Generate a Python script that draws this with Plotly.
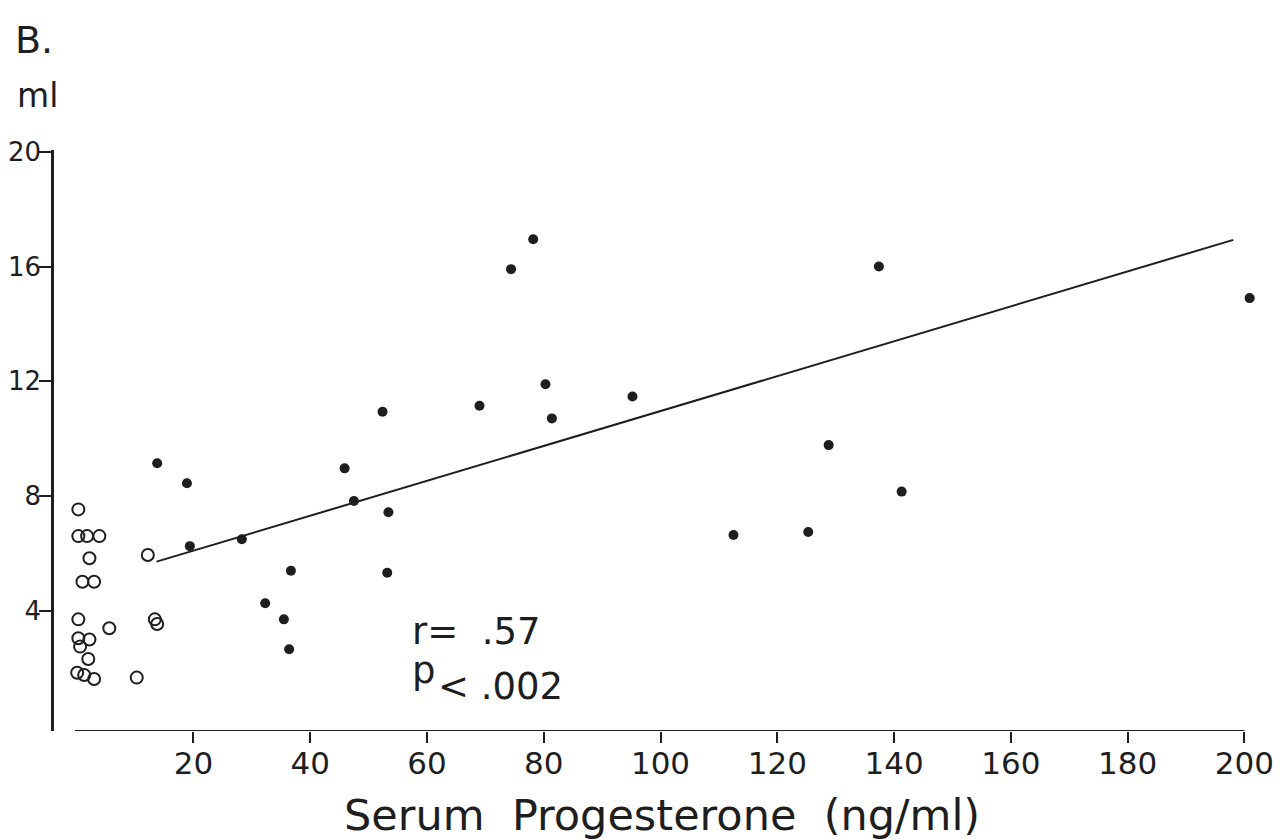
import plotly.graph_objects as go

# Filled dots (luteal / high progesterone)
filled_x = [13.8, 18.9, 19.4, 28.3, 32.3, 35.5, 36.4, 36.7, 45.9, 47.5, 52.4, 53.2, 53.4,
            69.0, 74.4, 78.2, 80.3, 81.4, 95.2, 112.5, 125.3, 128.8, 137.4, 141.3, 200.9]
filled_y = [9.15, 8.45, 6.26, 6.50, 4.27, 3.71, 2.67, 5.40, 8.97, 7.83, 10.94, 5.33, 7.44,
            11.15, 15.91, 16.95, 11.90, 10.71, 11.47, 6.65, 6.75, 9.78, 16.0, 8.16, 14.90]

# Open circles (low progesterone)
open_x = [0.3, 0.3, 1.8, 3.9, 2.2, 1.0, 3.0, 0.3, 0.3, 2.2, 0.6, 5.6, 2.0, 0.1, 1.3, 3.0,
          10.3, 12.2, 13.4, 13.8]
open_y = [7.54, 6.61, 6.61, 6.61, 5.84, 5.02, 5.02, 3.71, 3.05, 3.01, 2.76, 3.40, 2.33,
          1.85, 1.77, 1.63, 1.68, 5.95, 3.71, 3.55]

# Regression line endpoints
line_x = [13.7, 198.1]
line_y = [5.72, 16.93]

x_ticks = [20, 40, 60, 80, 100, 120, 140, 160, 180, 200]
y_ticks = [4, 8, 12, 16, 20]

ink = "#1e1e1e"
font = "DejaVu Sans"

fig = go.Figure()
fig.add_trace(go.Scatter(x=line_x, y=line_y, mode="lines",
                         line=dict(color=ink, width=2), hoverinfo="skip"))
fig.add_trace(go.Scatter(x=filled_x, y=filled_y, mode="markers",
                         marker=dict(color=ink, size=10, line=dict(width=0))))
fig.add_trace(go.Scatter(x=open_x, y=open_y, mode="markers",
                         marker=dict(symbol="circle-open", color=ink, size=12,
                                     line=dict(width=2, color=ink))))

# x-axis baseline drawn from x=0
fig.add_shape(type="line", xref="x", yref="y", x0=-0.3, x1=200, y0=-0.18, y1=-0.18,
              line=dict(color=ink, width=2))

W, H = 1281, 839
L, R, T, B = 54, 22, 150, 108
pw, ph = W - L - R, H - T - B

def px(xp):
    return (xp - L) / pw

def py(yp):
    return (H - B - yp) / ph

annos = [
    dict(text="B.", x=px(13), y=py(40), xanchor="left", yanchor="middle", size=38),
    dict(text="ml", x=px(15), y=py(95), xanchor="left", yanchor="middle", size=33),
    dict(text="Serum  Progesterone  (ng/ml)", x=px(662), y=py(815), xanchor="center",
         yanchor="middle", size=43),
    dict(text="r=  .57", x=px(410), y=py(631), xanchor="left", yanchor="middle", size=37),
    dict(text="p", x=px(410), y=py(670), xanchor="left", yanchor="middle", size=37),
    dict(text="< .002", x=px(436), y=py(686), xanchor="left", yanchor="middle", size=37),
]
for a in annos:
    fig.add_annotation(text=a["text"], x=a["x"], y=a["y"], xref="paper", yref="paper",
                       xanchor=a["xanchor"], yanchor=a["yanchor"], showarrow=False,
                       font=dict(family=font, size=a["size"], color=ink))

fig.update_layout(
    width=W, height=H,
    margin=dict(l=L, r=R, t=T, b=B, autoexpand=False),
    paper_bgcolor="white", plot_bgcolor="white",
    showlegend=False,
    xaxis=dict(range=[-3.87, 202.5], tickvals=x_ticks, ticktext=[str(v) for v in x_ticks],
               automargin=False, ticklabelstandoff=-6,
               showgrid=False, zeroline=False, showline=False,
               ticks="outside", ticklen=11, tickwidth=2, tickcolor=ink,
               tickfont=dict(family=font, size=31, color=ink)),
    yaxis=dict(range=[-0.18, 20.06], tickvals=y_ticks, ticktext=[str(v) for v in y_ticks],
               automargin=False, ticklabelstandoff=-7,
               showgrid=False, zeroline=False, showline=True, linecolor=ink, linewidth=2.5,
               ticks="outside", ticklen=12, tickwidth=2, tickcolor=ink,
               tickfont=dict(family=font, size=26, color=ink)),
)

fig.write_html("out.html")
